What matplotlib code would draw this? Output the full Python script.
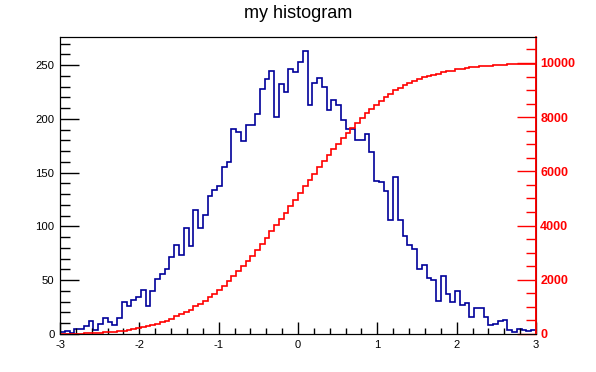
import numpy as np
import matplotlib
matplotlib.use("Agg")
import matplotlib.pyplot as plt
from matplotlib.ticker import MultipleLocator

# 100 bins on [-3, 3], counts
x_lo, x_hi, n_bins = -3.0, 3.0, 100
counts = [
    2, 3, 1, 5, 5, 7, 12, 4, 9, 15,
    11, 8, 15, 30, 26, 32, 34, 41, 26, 40,
    51, 56, 60, 72, 83, 73, 99, 82, 115, 99,
    111, 128, 134, 138, 155, 160, 191, 188, 179, 194,
    194, 205, 228, 237, 245, 202, 232, 225, 246, 244,
    253, 263, 213, 233, 238, 230, 208, 218, 213, 199,
    191, 191, 180, 180, 186, 169, 142, 141, 133, 106,
    146, 106, 91, 83, 79, 60, 64, 52, 50, 31,
    54, 37, 30, 40, 27, 29, 16, 24, 24, 16,
    8, 9, 12, 13, 4, 2, 5, 4, 3, 4,
]
x_ticks = [-3, -2, -1, 0, 1, 2, 3]
title = "my histogram"

counts = np.array(counts, dtype=float)
edges = np.linspace(x_lo, x_hi, n_bins + 1)
cumul = np.cumsum(counts)

plt.rcParams["font.family"] = ["Liberation Sans", "DejaVu Sans"]

fig = plt.figure(figsize=(5.96, 3.72), dpi=100)
ax = fig.add_axes([60 / 596, 1 - 334 / 372, 476 / 596, 297 / 372])

ax.stairs(counts, edges, baseline=0, color="#000099", lw=1.2)
ax.set_xlim(x_lo, x_hi)
ax.set_ylim(0, 1.05 * counts.max())
ax.set_xticks(x_ticks)
ax.set_xticklabels([str(t) for t in x_ticks])
ax.xaxis.set_minor_locator(MultipleLocator(0.2))
ax.yaxis.set_major_locator(MultipleLocator(50))
ax.yaxis.set_minor_locator(MultipleLocator(10))
ax.tick_params(axis="x", which="both", direction="in", top=False, labelsize=8, pad=4)
ax.tick_params(axis="x", which="major", length=9, width=1)
ax.tick_params(axis="x", which="minor", length=4.5, width=1)
ax.tick_params(axis="y", which="both", direction="in", right=False, labelsize=8.2, pad=4)
ax.tick_params(axis="y", which="major", length=14, width=1)
ax.tick_params(axis="y", which="minor", length=7, width=1)

# cumulative on the right scale
ax2 = ax.twinx()
ax2.stairs(cumul, edges, baseline=0, color="red", lw=1.2)
ax2.set_ylim(0, 1.1 * cumul.max())
ax2.yaxis.set_major_locator(MultipleLocator(2000))
ax2.yaxis.set_minor_locator(MultipleLocator(500))
ax2.tick_params(axis="y", which="both", direction="in", colors="red",
                labelsize=9, pad=3)
ax2.tick_params(axis="y", which="major", length=14, width=1)
ax2.tick_params(axis="y", which="minor", length=7, width=1)
for lab in ax2.get_yticklabels():
    lab.set_fontweight("bold")
ax2.spines["right"].set_color("red")
ax2.spines["right"].set_linewidth(1.2)

fig.text(0.5, 1 - 14 / 372, title, ha="center", va="center", fontsize=13)

fig.savefig("out.png", dpi=100)
